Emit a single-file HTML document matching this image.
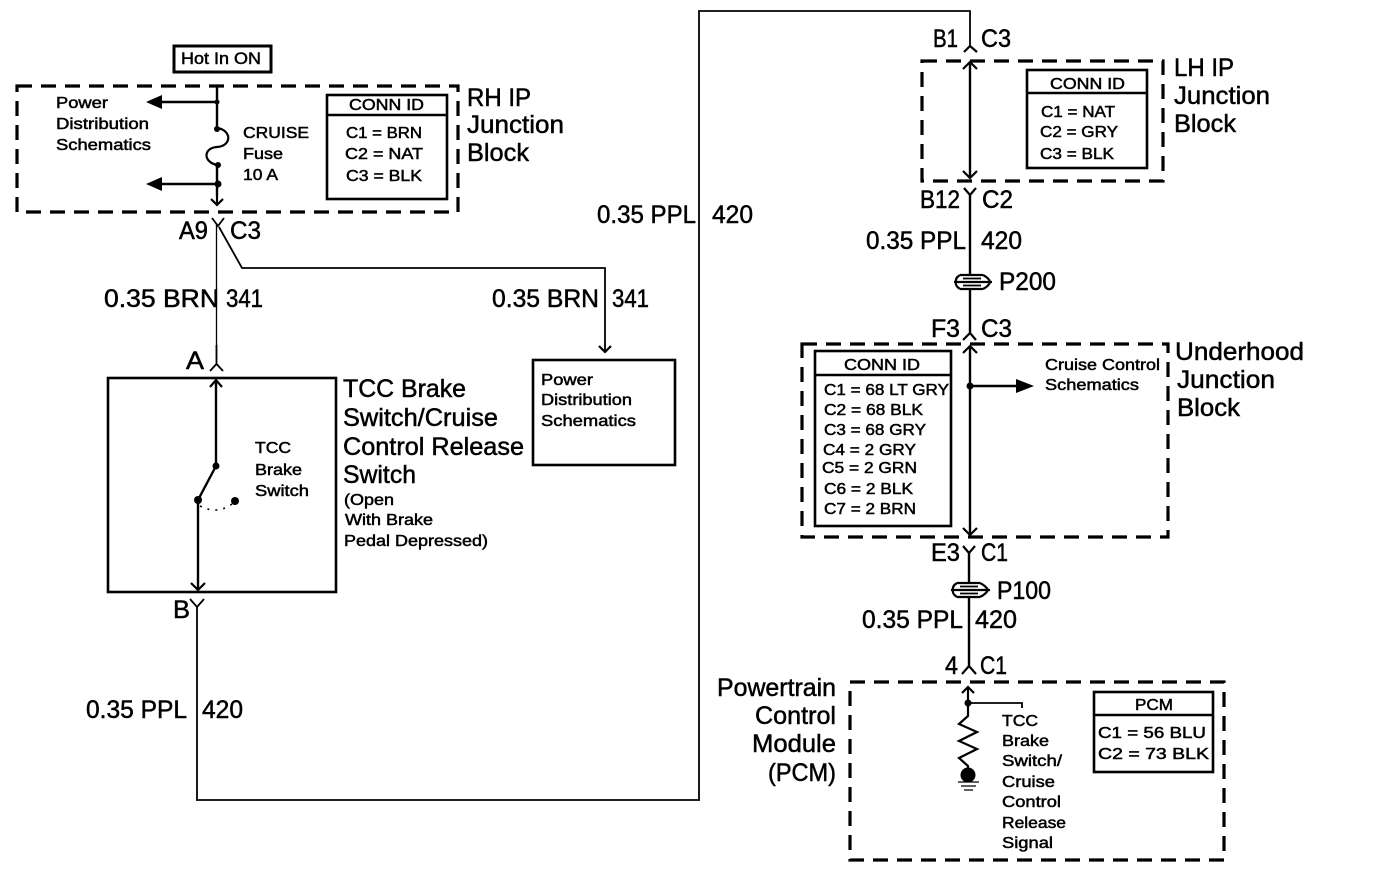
<!DOCTYPE html>
<html>
<head>
<meta charset="utf-8">
<style>
html,body{margin:0;padding:0;background:#fff;width:1376px;height:884px;overflow:hidden}
svg{display:block}
text{font-family:"Liberation Sans",sans-serif;fill:#000;stroke:#000;stroke-width:.5}
.l{font-size:25px}
.m{font-size:17px}
.s{font-size:16px}
.w{fill:none;stroke:#000;stroke-width:2.4}
.n{fill:none;stroke:#000;stroke-width:1.8}
.a{fill:none;stroke:#000;stroke-width:2.2}
.t{fill:none;stroke:#000;stroke-width:1.3}
.d{fill:none;stroke:#000;stroke-width:3.2;stroke-dasharray:15 9}
.b{fill:none;stroke:#000;stroke-width:2.6}
</style>
</head>
<body>
<svg width="1376" height="884" viewBox="0 0 1376 884" xmlns="http://www.w3.org/2000/svg">
<rect width="1376" height="884" fill="#fff"/>

<!-- Hot in ON -->
<rect x="174" y="46" width="97" height="26" fill="none" stroke="#000" style="stroke-width:3"/>
<text x="181" y="64" class="m" textLength="80" lengthAdjust="spacingAndGlyphs">Hot In ON</text>

<!-- RH IP block -->
<rect x="17" y="86" width="441" height="126" class="d"/>
<path class="w" d="M217 86V129M217 165V196"/>
<path class="a" d="M217 196V205M211 199L217 205L223 199"/>
<path class="w" d="M217 102H160M217 184H160"/>
<path d="M146 102L162 95V109ZM146 184L162 177V191Z"/>
<circle cx="217" cy="102" r="2.5"/><circle cx="218" cy="184" r="3.5"/>
<circle cx="217" cy="129" r="3"/><circle cx="218" cy="165" r="3"/>
<path class="a" d="M217 128C232 130 232 146 217 147C203 148 203 162 217 165"/>
<text x="56" y="108" class="s" textLength="52" lengthAdjust="spacingAndGlyphs">Power</text>
<text x="56" y="129" class="s" textLength="93" lengthAdjust="spacingAndGlyphs">Distribution</text>
<text x="56" y="150" class="s" textLength="95" lengthAdjust="spacingAndGlyphs">Schematics</text>
<text x="243" y="138" class="s" textLength="66" lengthAdjust="spacingAndGlyphs">CRUISE</text>
<text x="243" y="159" class="s" textLength="40" lengthAdjust="spacingAndGlyphs">Fuse</text>
<text x="243" y="180" class="s" textLength="35" lengthAdjust="spacingAndGlyphs">10 A</text>
<rect x="327" y="95" width="120" height="104" class="b"/>
<path class="b" d="M327 115H447"/>
<text x="349" y="110" class="s" textLength="75" lengthAdjust="spacingAndGlyphs">CONN ID</text>
<text x="346" y="138" class="s" textLength="76" lengthAdjust="spacingAndGlyphs">C1 = BRN</text>
<text x="345" y="159" class="s" textLength="78" lengthAdjust="spacingAndGlyphs">C2 = NAT</text>
<text x="346" y="181" class="s" textLength="76" lengthAdjust="spacingAndGlyphs">C3 = BLK</text>
<text x="467" y="106" class="l" textLength="64" lengthAdjust="spacingAndGlyphs">RH IP</text>
<text x="467" y="133" class="l" textLength="97" lengthAdjust="spacingAndGlyphs">Junction</text>
<text x="467" y="161" class="l" textLength="62" lengthAdjust="spacingAndGlyphs">Block</text>

<!-- A9 C3 -->
<text x="179" y="239" class="l" textLength="29" lengthAdjust="spacingAndGlyphs">A9</text>
<text x="230" y="239" class="l" textLength="31" lengthAdjust="spacingAndGlyphs">C3</text>
<path class="n" d="M212 218L218 226L224 218"/>
<path class="t" d="M216.500 224V360"/>
<path class="n" d="M219 227L242 268H605V352"/>
<path class="a" d="M599 346L605 352L611 346"/>
<text x="104" y="307" class="l" textLength="115" lengthAdjust="spacingAndGlyphs">0.35 BRN</text>
<text x="226" y="307" class="l" textLength="37" lengthAdjust="spacingAndGlyphs">341</text>
<text x="492" y="307" class="l" textLength="107" lengthAdjust="spacingAndGlyphs">0.35 BRN</text>
<text x="612" y="307" class="l" textLength="37" lengthAdjust="spacingAndGlyphs">341</text>

<!-- Power Distribution box -->
<rect x="533" y="360" width="142" height="105" class="b"/>
<text x="541" y="385" class="s" textLength="52" lengthAdjust="spacingAndGlyphs">Power</text>
<text x="541" y="405" class="s" textLength="91" lengthAdjust="spacingAndGlyphs">Distribution</text>
<text x="541" y="426" class="s" textLength="95" lengthAdjust="spacingAndGlyphs">Schematics</text>

<!-- Switch -->
<text x="186" y="369" class="l" textLength="18" lengthAdjust="spacingAndGlyphs">A</text>
<path class="n" d="M216.500 345V364M210 371L216.500 364L223 371"/>
<rect x="108" y="378" width="228" height="214" class="b"/>
<path class="w" d="M216 381V466L198 500V589"/>
<path class="a" d="M210 387L216 380L222 387M191 583L198 590L205 583"/>
<circle cx="216" cy="466" r="3.500"/><circle cx="198" cy="500" r="4"/><circle cx="235" cy="501" r="4"/>
<path d="M200 506Q217 515 232 504" fill="none" stroke="#000" style="stroke-width:1.600" stroke-dasharray="2 6"/>
<text x="255" y="453" class="s" textLength="36" lengthAdjust="spacingAndGlyphs">TCC</text>
<text x="255" y="475" class="s" textLength="47" lengthAdjust="spacingAndGlyphs">Brake</text>
<text x="255" y="496" class="s" textLength="54" lengthAdjust="spacingAndGlyphs">Switch</text>
<text x="343" y="397" class="l" textLength="123" lengthAdjust="spacingAndGlyphs">TCC Brake</text>
<text x="343" y="426" class="l" textLength="155" lengthAdjust="spacingAndGlyphs">Switch/Cruise</text>
<text x="343" y="455" class="l" textLength="181" lengthAdjust="spacingAndGlyphs">Control Release</text>
<text x="343" y="483" class="l" textLength="73" lengthAdjust="spacingAndGlyphs">Switch</text>
<text x="344" y="505" class="s" textLength="50" lengthAdjust="spacingAndGlyphs">(Open</text>
<text x="345" y="525" class="s" textLength="88" lengthAdjust="spacingAndGlyphs">With Brake</text>
<text x="344" y="546" class="s" textLength="144" lengthAdjust="spacingAndGlyphs">Pedal Depressed)</text>
<text x="173" y="618" class="l" textLength="17" lengthAdjust="spacingAndGlyphs">B</text>
<path class="n" d="M190 599L197 607L204 599"/>

<!-- Long wire -->
<path class="n" d="M197 606V800H699V11H970V47"/>
<text x="86" y="718" class="l" textLength="101" lengthAdjust="spacingAndGlyphs">0.35 PPL</text>
<text x="202" y="718" class="l" textLength="41" lengthAdjust="spacingAndGlyphs">420</text>
<text x="597" y="223" class="l" textLength="99" lengthAdjust="spacingAndGlyphs">0.35 PPL</text>
<text x="712" y="223" class="l" textLength="41" lengthAdjust="spacingAndGlyphs">420</text>

<!-- LH IP block -->
<text x="933" y="47" class="l" textLength="25" lengthAdjust="spacingAndGlyphs">B1</text>
<text x="981" y="47" class="l" textLength="30" lengthAdjust="spacingAndGlyphs">C3</text>
<path class="a" d="M964 52L970 46L977 52"/>
<rect x="922" y="61" width="241" height="120" class="d"/>
<path class="w" d="M970 62V178"/>
<path class="a" d="M963 69L970 62L977 69M963 171L970 178L977 171"/>
<rect x="1027" y="70" width="120" height="98" class="b"/>
<path class="b" d="M1027 93H1147"/>
<text x="1050" y="89" class="s" textLength="75" lengthAdjust="spacingAndGlyphs">CONN ID</text>
<text x="1041" y="117" class="s" textLength="74" lengthAdjust="spacingAndGlyphs">C1 = NAT</text>
<text x="1040" y="137" class="s" textLength="78" lengthAdjust="spacingAndGlyphs">C2 = GRY</text>
<text x="1040" y="159" class="s" textLength="74" lengthAdjust="spacingAndGlyphs">C3 = BLK</text>
<text x="1174" y="76" class="l" textLength="60" lengthAdjust="spacingAndGlyphs">LH IP</text>
<text x="1174" y="104" class="l" textLength="96" lengthAdjust="spacingAndGlyphs">Junction</text>
<text x="1174" y="132" class="l" textLength="62" lengthAdjust="spacingAndGlyphs">Block</text>

<!-- B12 C2 -->
<text x="920" y="208" class="l" textLength="40" lengthAdjust="spacingAndGlyphs">B12</text>
<text x="982" y="208" class="l" textLength="31" lengthAdjust="spacingAndGlyphs">C2</text>
<path class="a" d="M964 188L970 195L976 188"/>
<path class="w" d="M970 195V335"/>
<text x="866" y="249" class="l" textLength="100" lengthAdjust="spacingAndGlyphs">0.35 PPL</text>
<text x="981" y="249" class="l" textLength="41" lengthAdjust="spacingAndGlyphs">420</text>

<!-- P200 -->
<rect x="960" y="276" width="20" height="12" fill="#fff" stroke="none"/>
<path class="a" d="M960 275H983M954 282H992M960 289H983M960 275Q955 278 956 282M983 275Q989 278 990 282M960 289Q955 286 956 282M983 289Q989 286 990 282"/>
<path class="n" d="M963 278.500H981M963 285.500H981"/>
<text x="999" y="290" class="l" textLength="57" lengthAdjust="spacingAndGlyphs">P200</text>

<!-- Underhood -->
<text x="931" y="337" class="l" textLength="29" lengthAdjust="spacingAndGlyphs">F3</text>
<text x="981" y="337" class="l" textLength="31" lengthAdjust="spacingAndGlyphs">C3</text>
<path class="a" d="M963 340L970 333L976 340"/>
<rect x="802" y="344" width="366" height="193" class="d"/>
<path class="w" d="M970 346V535"/>
<path class="a" d="M963 353L970 346L977 353M963 528L970 535L977 528"/>
<circle cx="970" cy="386" r="3.500"/>
<path class="w" d="M970 386H1020"/>
<path d="M1034 386L1016 379V393Z"/>
<rect x="815" y="351" width="136" height="175" class="b"/>
<path class="b" d="M815 375H951"/>
<text x="844" y="370" class="s" textLength="76" lengthAdjust="spacingAndGlyphs">CONN ID</text>
<text x="824" y="395" class="s" textLength="125" lengthAdjust="spacingAndGlyphs">C1 = 68 LT GRY</text>
<text x="824" y="415" class="s" textLength="99" lengthAdjust="spacingAndGlyphs">C2 = 68 BLK</text>
<text x="824" y="435" class="s" textLength="102" lengthAdjust="spacingAndGlyphs">C3 = 68 GRY</text>
<text x="823" y="455" class="s" textLength="93" lengthAdjust="spacingAndGlyphs">C4 = 2 GRY</text>
<text x="822" y="473" class="s" textLength="95" lengthAdjust="spacingAndGlyphs">C5 = 2 GRN</text>
<text x="824" y="494" class="s" textLength="89" lengthAdjust="spacingAndGlyphs">C6 = 2 BLK</text>
<text x="824" y="514" class="s" textLength="92" lengthAdjust="spacingAndGlyphs">C7 = 2 BRN</text>
<text x="1045" y="370" class="s" textLength="115" lengthAdjust="spacingAndGlyphs">Cruise Control</text>
<text x="1045" y="390" class="s" textLength="94" lengthAdjust="spacingAndGlyphs">Schematics</text>
<text x="1175" y="360" class="l" textLength="129" lengthAdjust="spacingAndGlyphs">Underhood</text>
<text x="1177" y="388" class="l" textLength="98" lengthAdjust="spacingAndGlyphs">Junction</text>
<text x="1177" y="416" class="l" textLength="63" lengthAdjust="spacingAndGlyphs">Block</text>

<!-- E3 C1 -->
<text x="931" y="561" class="l" textLength="29" lengthAdjust="spacingAndGlyphs">E3</text>
<text x="981" y="561" class="l" textLength="27" lengthAdjust="spacingAndGlyphs">C1</text>
<path class="a" d="M963 546L969 553L975 546"/>
<path class="w" d="M969 553V666"/>

<!-- P100 -->
<rect x="958" y="584" width="20" height="12" fill="#fff" stroke="none"/>
<path class="a" d="M957 583H980M951 590H990M957 597H980M957 583Q952 586 953 590M980 583Q986 586 988 590M957 597Q952 594 953 590M980 597Q986 594 988 590"/>
<path class="n" d="M960 586.500H978M960 593.500H978"/>
<text x="997" y="599" class="l" textLength="54" lengthAdjust="spacingAndGlyphs">P100</text>
<text x="862" y="628" class="l" textLength="101" lengthAdjust="spacingAndGlyphs">0.35 PPL</text>
<text x="975" y="628" class="l" textLength="42" lengthAdjust="spacingAndGlyphs">420</text>

<!-- PCM -->
<text x="945" y="674" class="l" textLength="13" lengthAdjust="spacingAndGlyphs">4</text>
<text x="980" y="674" class="l" textLength="27" lengthAdjust="spacingAndGlyphs">C1</text>
<path class="a" d="M962 674L969 666L976 674"/>
<rect x="850" y="682" width="374" height="178" class="d"/>
<path class="a" d="M968 687V716L959 724L977 732L959 741L977 749L959 758L968 766V772"/>
<path class="a" d="M962 693L968 687L974 693"/>
<circle cx="968" cy="703" r="3.500"/>
<path class="n" d="M968 703H1022V708"/>
<circle cx="968" cy="775" r="7.500"/>
<path class="t" d="M958 782H979M961 786H976M964 790H973"/>
<text x="1002" y="726" class="s" textLength="36" lengthAdjust="spacingAndGlyphs">TCC</text>
<text x="1002" y="746" class="s" textLength="47" lengthAdjust="spacingAndGlyphs">Brake</text>
<text x="1002" y="766" class="s" textLength="60" lengthAdjust="spacingAndGlyphs">Switch/</text>
<text x="1002" y="787" class="s" textLength="53" lengthAdjust="spacingAndGlyphs">Cruise</text>
<text x="1002" y="807" class="s" textLength="59" lengthAdjust="spacingAndGlyphs">Control</text>
<text x="1002" y="828" class="s" textLength="64" lengthAdjust="spacingAndGlyphs">Release</text>
<text x="1002" y="848" class="s" textLength="51" lengthAdjust="spacingAndGlyphs">Signal</text>
<rect x="1094" y="692" width="119" height="80" class="b"/>
<path class="b" d="M1094 715H1213"/>
<text x="1135" y="710" class="s" textLength="38" lengthAdjust="spacingAndGlyphs">PCM</text>
<text x="1098" y="738" class="s" textLength="108" lengthAdjust="spacingAndGlyphs">C1 = 56 BLU</text>
<text x="1098" y="759" class="s" textLength="111" lengthAdjust="spacingAndGlyphs">C2 = 73 BLK</text>
<text x="717" y="696" class="l" textLength="119" lengthAdjust="spacingAndGlyphs">Powertrain</text>
<text x="755" y="724" class="l" textLength="81" lengthAdjust="spacingAndGlyphs">Control</text>
<text x="752" y="752" class="l" textLength="84" lengthAdjust="spacingAndGlyphs">Module</text>
<text x="768" y="781" class="l" textLength="68" lengthAdjust="spacingAndGlyphs">(PCM)</text>
</svg>
</body>
</html>
